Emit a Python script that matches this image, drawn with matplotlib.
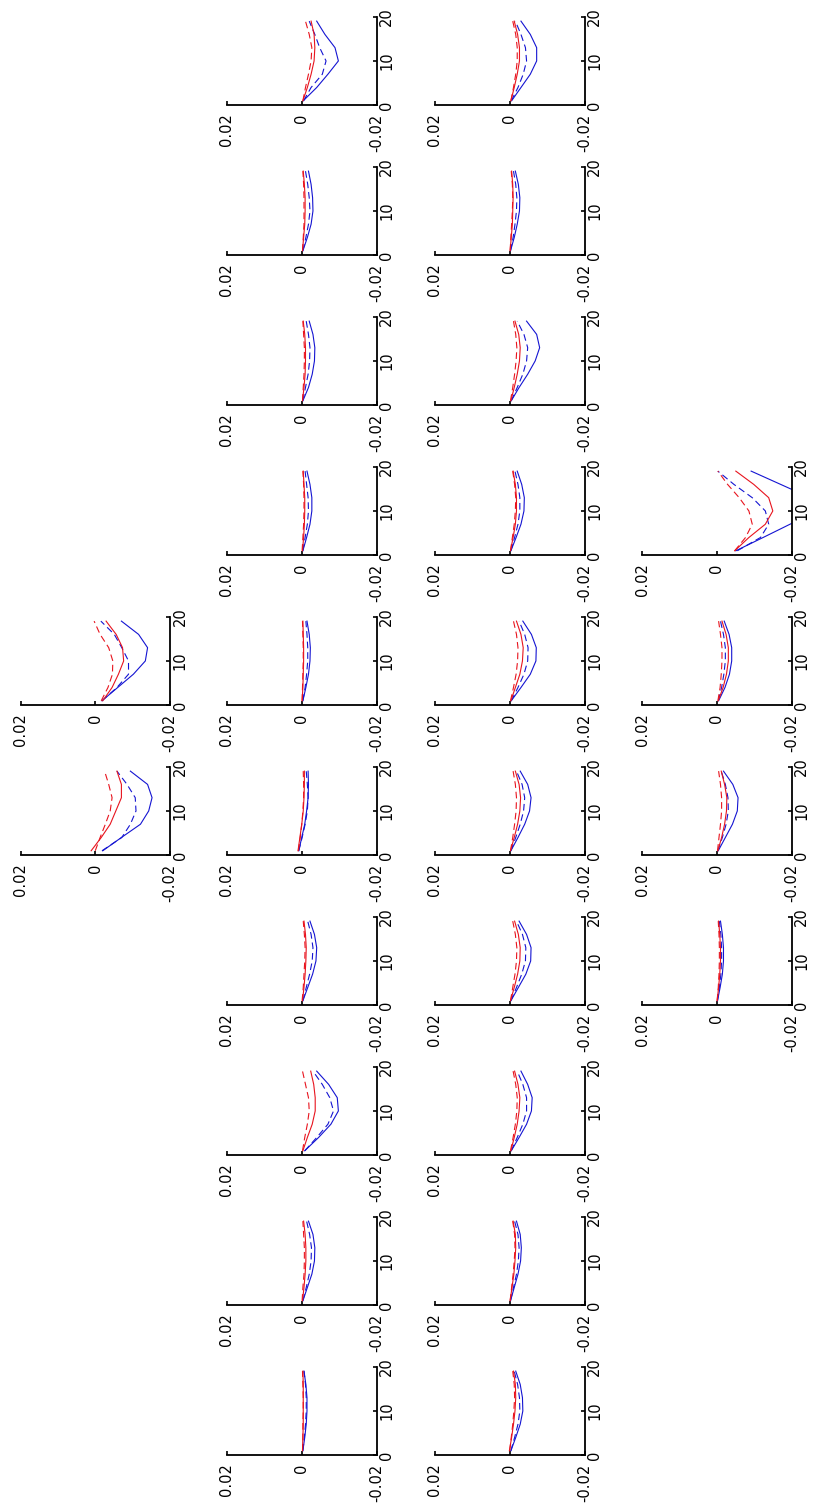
import numpy as np
import matplotlib
matplotlib.use("Agg")
import matplotlib.pyplot as plt

plt.rcParams['font.family'] = ['DejaVu Sans']

# abscissa of the sampled points, same for every panel
x_pts = [1, 4, 7, 10, 13, 16, 19]

# where each panel sits on the page: (column, row), page is printed rotated
panel_slots = [(0, 4), (0, 5),
               (1, 0), (1, 1), (1, 2), (1, 3), (1, 4), (1, 5), (1, 6), (1, 7), (1, 8), (1, 9),
               (2, 0), (2, 1), (2, 2), (2, 3), (2, 4), (2, 5), (2, 6), (2, 7), (2, 8), (2, 9),
               (3, 3), (3, 4), (3, 5), (3, 6)]

# curve values in units of 1e-3, one list per panel (same order as panel_slots)
blue_solid = [
    [-1.8, -6.0, -10.2, -13.4, -14.0, -11.6, -7.0],
    [-2.0, -7.0, -12.1, -14.3, -15.2, -14.0, -9.4],
    [-0.4, -4.0, -7.0, -9.8, -8.9, -6.2, -4.0],
    [-0.3, -1.5, -2.5, -3.0, -2.9, -2.5, -1.8],
    [-0.3, -1.8, -2.8, -3.4, -3.5, -3.0, -2.0],
    [-0.3, -1.3, -2.2, -2.7, -2.7, -2.2, -1.4],
    [-0.3, -1.1, -1.8, -2.2, -2.3, -2.0, -1.4],
    [0.8, 0.0, -0.8, -1.3, -1.7, -1.8, -1.7],
    [-0.3, -1.6, -2.9, -3.8, -4.0, -3.4, -2.2],
    [-0.8, -4.5, -7.8, -9.8, -9.5, -7.2, -4.0],
    [-0.3, -1.5, -2.7, -3.4, -3.5, -3.0, -1.8],
    [-0.3, -0.8, -1.2, -1.4, -1.4, -1.1, -0.6],
    [-0.5, -3.0, -5.5, -7.2, -7.2, -5.5, -3.0],
    [-0.2, -1.2, -2.0, -2.6, -2.7, -2.3, -1.5],
    [-0.4, -2.5, -4.8, -6.8, -8.0, -7.2, -4.5],
    [-0.3, -1.7, -3.0, -3.8, -3.9, -3.2, -2.0],
    [-0.4, -3.0, -5.5, -7.0, -7.1, -5.8, -3.5],
    [-0.3, -2.2, -4.0, -5.3, -5.7, -4.8, -2.8],
    [-0.3, -2.3, -4.3, -5.6, -5.7, -4.5, -2.5],
    [-0.4, -2.5, -4.5, -5.8, -6.0, -4.8, -3.0],
    [-0.2, -1.2, -2.2, -2.9, -3.1, -2.8, -1.8],
    [-0.3, -1.6, -2.8, -3.5, -3.4, -2.8, -1.6],
    [-5.1, -12.4, -19.6, -26.9, -25.0, -17.1, -9.2],
    [-0.5, -2.2, -3.4, -4.0, -4.0, -3.3, -2.0],
    [-0.4, -2.3, -4.2, -5.5, -5.7, -4.3, -1.8],
    [-0.2, -0.9, -1.5, -1.8, -1.8, -1.5, -1.0],
]
blue_dashed = [
    [-1.8, -5.8, -8.9, -8.9, -7.1, -5.1, -1.5],
    [-1.8, -7.1, -9.4, -10.9, -10.7, -8.5, -5.8],
    [-0.5, -2.5, -5.5, -6.5, -4.8, -3.5, -2.0],
    [-0.3, -1.1, -1.8, -2.2, -2.0, -1.6, -1.0],
    [-0.3, -1.0, -1.7, -2.1, -2.2, -1.8, -1.2],
    [-0.3, -0.9, -1.5, -1.8, -1.7, -1.3, -0.9],
    [-0.3, -0.9, -1.3, -1.6, -1.6, -1.4, -1.1],
    [0.8, -0.1, -0.9, -1.5, -1.7, -1.5, -1.2],
    [-0.3, -1.2, -2.1, -2.8, -3.0, -2.5, -1.6],
    [-0.8, -4.0, -7.0, -8.5, -7.5, -5.5, -3.0],
    [-0.3, -1.2, -2.0, -2.5, -2.6, -2.1, -1.3],
    [-0.3, -0.7, -1.0, -1.2, -1.2, -1.0, -0.6],
    [-0.4, -2.2, -3.6, -4.5, -4.2, -3.0, -1.5],
    [-0.2, -0.9, -1.4, -1.8, -1.9, -1.6, -1.0],
    [-0.4, -2.0, -3.5, -4.5, -4.8, -3.8, -2.0],
    [-0.3, -1.3, -2.2, -2.7, -2.7, -2.2, -1.4],
    [-0.4, -2.2, -3.8, -4.8, -4.9, -4.0, -2.5],
    [-0.3, -1.6, -2.8, -3.7, -4.0, -3.3, -1.8],
    [-0.3, -1.8, -3.2, -4.2, -4.3, -3.4, -1.8],
    [-0.4, -2.0, -3.5, -4.5, -4.5, -3.5, -2.0],
    [-0.2, -1.0, -1.8, -2.3, -2.5, -2.2, -1.3],
    [-0.3, -1.3, -2.2, -2.7, -2.6, -2.1, -1.2],
    [-5.5, -11.7, -13.9, -13.0, -9.5, -4.6, -0.3],
    [-0.4, -1.3, -1.9, -2.3, -2.3, -1.8, -1.0],
    [-0.3, -1.5, -2.5, -3.1, -3.0, -2.3, -1.2],
    [-0.2, -0.7, -1.1, -1.3, -1.3, -1.1, -0.7],
]
red_solid = [
    [-2.0, -4.5, -6.2, -7.6, -7.3, -5.6, -2.9],
    [1.1, -1.6, -4.0, -5.5, -7.0, -7.0, -5.8],
    [-0.3, -1.5, -2.5, -3.3, -3.5, -3.3, -2.5],
    [-0.2, -0.5, -0.8, -0.9, -0.9, -0.7, -0.4],
    [-0.2, -0.6, -0.9, -1.0, -1.0, -0.8, -0.4],
    [-0.2, -0.5, -0.7, -0.8, -0.8, -0.6, -0.4],
    [-0.1, -0.3, -0.4, -0.5, -0.5, -0.4, -0.3],
    [1.0, 0.5, 0.0, -0.4, -0.6, -0.7, -0.7],
    [-0.2, -0.6, -0.9, -1.1, -1.2, -1.0, -0.6],
    [-0.3, -1.5, -2.8, -3.6, -3.6, -3.2, -2.4],
    [-0.2, -0.6, -0.9, -1.1, -1.1, -0.9, -0.5],
    [-0.2, -0.3, -0.4, -0.4, -0.4, -0.4, -0.3],
    [-0.3, -1.2, -2.0, -2.6, -2.6, -2.1, -1.2],
    [-0.1, -0.4, -0.7, -0.8, -0.9, -0.8, -0.5],
    [-0.3, -1.2, -2.0, -2.6, -2.8, -2.4, -1.4],
    [-0.2, -0.9, -1.5, -1.8, -1.8, -1.5, -0.9],
    [-0.3, -1.5, -2.7, -3.4, -3.6, -3.0, -1.8],
    [-0.2, -1.2, -2.1, -2.7, -2.9, -2.5, -1.5],
    [-0.2, -1.2, -2.1, -2.7, -2.8, -2.3, -1.3],
    [-0.3, -1.2, -2.0, -2.5, -2.7, -2.2, -1.3],
    [-0.1, -0.6, -1.1, -1.4, -1.6, -1.5, -0.9],
    [0.1, -0.5, -1.0, -1.4, -1.6, -1.5, -1.0],
    [-4.8, -8.6, -13.0, -15.0, -13.9, -9.9, -5.1],
    [-0.4, -1.7, -2.6, -3.1, -3.1, -2.5, -1.4],
    [-0.3, -1.3, -2.1, -2.6, -2.7, -2.1, -1.2],
    [-0.1, -0.5, -0.8, -1.0, -1.0, -0.8, -0.5],
]
red_dashed = [
    [-1.6, -3.4, -4.6, -4.7, -3.6, -1.3, 0.3],
    [0.0, -1.3, -2.7, -4.0, -4.5, -3.6, -2.5],
    [-0.3, -1.0, -1.8, -2.5, -2.7, -2.0, -1.0],
    [-0.2, -0.4, -0.6, -0.6, -0.6, -0.5, -0.3],
    [-0.2, -0.4, -0.6, -0.7, -0.7, -0.5, -0.3],
    [-0.1, -0.3, -0.5, -0.6, -0.6, -0.5, -0.3],
    [-0.1, -0.2, -0.3, -0.4, -0.4, -0.3, -0.2],
    [0.9, 0.4, 0.0, -0.3, -0.5, -0.5, -0.4],
    [-0.1, -0.4, -0.6, -0.8, -0.9, -0.7, -0.4],
    [-0.2, -0.8, -1.5, -2.0, -1.8, -1.0, -0.2],
    [-0.1, -0.3, -0.6, -0.7, -0.7, -0.5, -0.3],
    [-0.2, -0.3, -0.3, -0.4, -0.4, -0.3, -0.2],
    [-0.3, -1.0, -1.6, -2.0, -2.0, -1.6, -0.8],
    [-0.1, -0.3, -0.5, -0.7, -0.8, -0.7, -0.4],
    [-0.2, -0.8, -1.3, -1.7, -1.9, -1.6, -1.0],
    [-0.2, -0.7, -1.2, -1.5, -1.6, -1.3, -0.8],
    [-0.2, -1.0, -1.7, -2.1, -2.2, -1.8, -1.0],
    [-0.2, -0.8, -1.3, -1.7, -1.8, -1.5, -0.9],
    [-0.2, -0.8, -1.4, -1.8, -1.9, -1.5, -0.8],
    [-0.2, -0.9, -1.5, -1.9, -2.0, -1.6, -0.9],
    [-0.1, -0.5, -0.9, -1.2, -1.4, -1.3, -0.8],
    [0.0, -0.4, -0.8, -1.1, -1.3, -1.2, -0.8],
    [-4.8, -7.7, -9.5, -8.6, -6.0, -2.9, -0.3],
    [-0.3, -0.9, -1.2, -1.4, -1.4, -1.0, -0.5],
    [-0.2, -0.6, -1.0, -1.3, -1.3, -1.0, -0.5],
    [-0.1, -0.4, -0.6, -0.7, -0.7, -0.6, -0.4],
]

y_ticks = [0.02, 0, -0.02]
y_tick_labels = ['0.02', '0', '-0.02']
x_ticks = [0, 10, 20]
x_tick_labels = ['0', '10', '20']

# page geometry in pixels
W, H = 817, 1510
col_left = [20.5, 227, 435, 642]
row_top0, row_step = 16.7, 150
ax_w, ax_h = 149.5, 88.5

BLUE = '#1414d2'
RED = '#e8141e'
DASH = (0, (6, 3.5))


def draw_panel(ax, k):
    # the page is turned: data x runs upward, data y runs leftward
    ax.plot(np.array(blue_solid[k]) * 1e-3, x_pts, color=BLUE, lw=0.8)
    ax.plot(np.array(blue_dashed[k]) * 1e-3, x_pts, color=BLUE, lw=0.8, linestyle=DASH)
    ax.plot(np.array(red_solid[k]) * 1e-3, x_pts, color=RED, lw=0.8)
    ax.plot(np.array(red_dashed[k]) * 1e-3, x_pts, color=RED, lw=0.8, linestyle=DASH)

    ax.set_xlim(0.02, -0.02)
    ax.set_ylim(0, 20)
    ax.spines['top'].set_visible(False)
    ax.spines['left'].set_visible(False)
    for s in ('bottom', 'right'):
        ax.spines[s].set_linewidth(1.3)
    ax.yaxis.tick_right()
    ax.set_xticks(y_ticks)
    ax.set_xticklabels(y_tick_labels, rotation=90)
    ax.set_yticks(x_ticks)
    ax.set_yticklabels(x_tick_labels, rotation=90, va='center')
    ax.tick_params(direction='in', length=3, width=1.2, labelsize=10.5)
    ax.tick_params(axis='x', pad=6)
    ax.tick_params(axis='y', pad=2)
    ax.patch.set_visible(False)


fig = plt.figure(figsize=(W / 100, H / 100), dpi=100)
for k, (c, r) in enumerate(panel_slots):
    top = row_top0 + row_step * r
    ax = fig.add_axes([col_left[c] / W, 1 - (top + ax_h) / H, ax_w / W, ax_h / H])
    draw_panel(ax, k)

fig.savefig('out.png', dpi=100)
plt.close(fig)
